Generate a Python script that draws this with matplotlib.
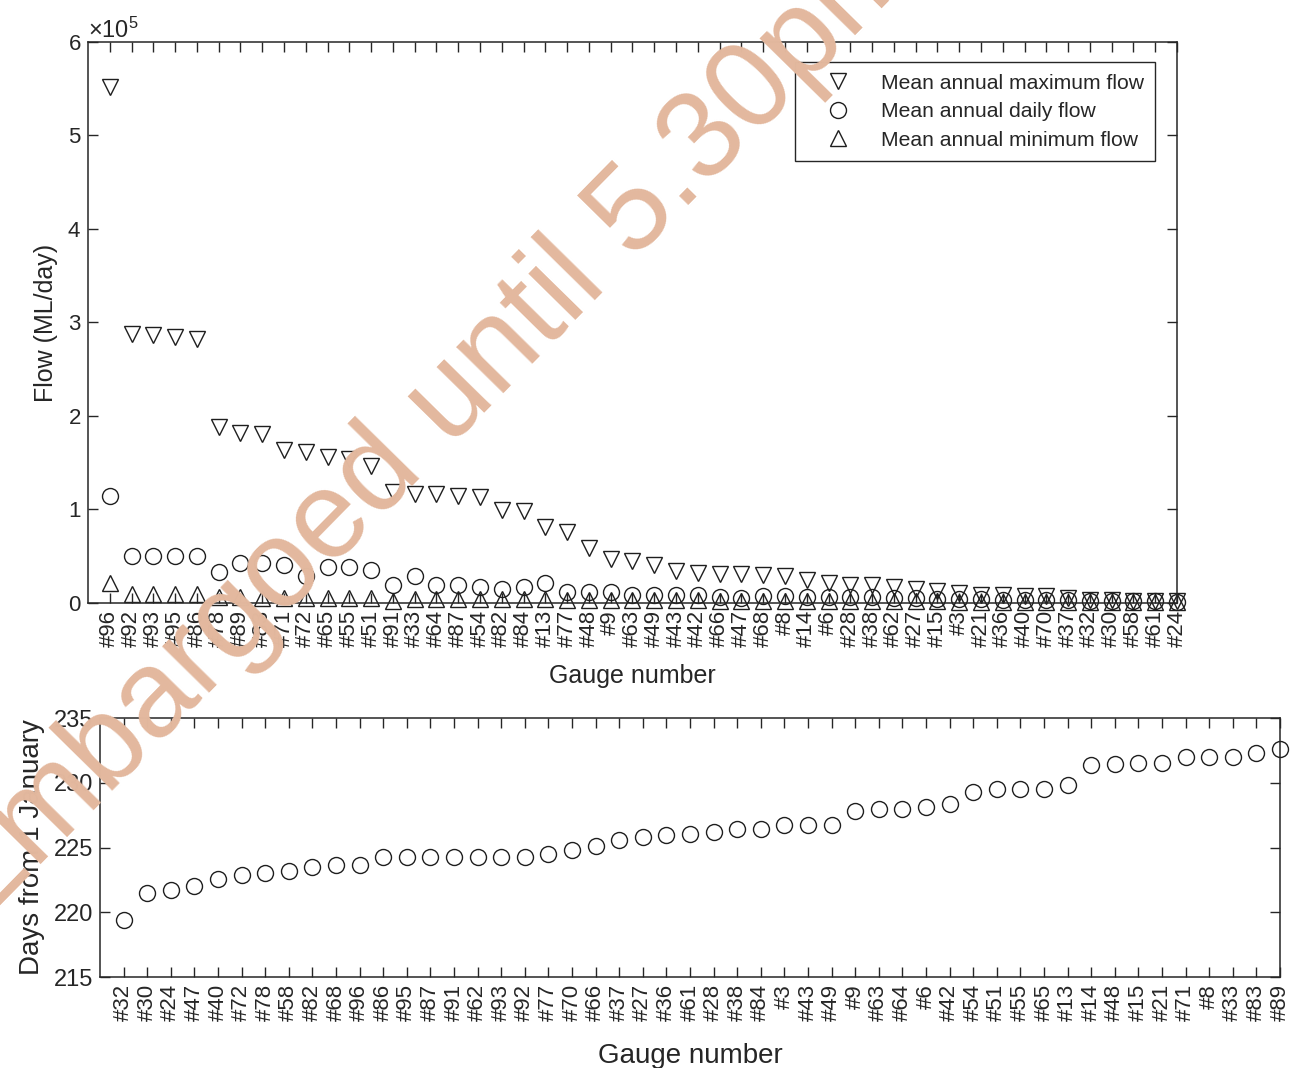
import matplotlib
matplotlib.use("Agg")
import matplotlib.pyplot as plt
from matplotlib.ticker import ScalarFormatter

plt.rcParams['font.family'] = ['Liberation Sans', 'DejaVu Sans']
plt.rcParams['mathtext.fontset'] = 'custom'
plt.rcParams['mathtext.rm'] = 'Liberation Sans'
plt.rcParams['mathtext.it'] = 'Liberation Sans:italic'

# ---- Flow statistics per gauge (ML/day), gauges ordered by maximum flow ----
flow_gauges = ['#96', '#92', '#93', '#95', '#86', '#78', '#89', '#83', '#71', '#72',
               '#65', '#55', '#51', '#91', '#33', '#64', '#87', '#54', '#82', '#84',
               '#13', '#77', '#48', '#9', '#63', '#49', '#43', '#42', '#66', '#47',
               '#68', '#8', '#14', '#6', '#28', '#38', '#62', '#27', '#15', '#3',
               '#21', '#36', '#40', '#70', '#37', '#32', '#30', '#58', '#61', '#24']

max_flow = [552000, 288000, 287000, 285000, 282000, 188000, 182000, 181000, 164000, 161000,
            156000, 154500, 147000, 118500, 116500, 116600, 114800, 113000, 99800, 98000,
            81600, 75600, 58800, 47400, 45300, 40300, 33900, 32100, 31000, 31000,
            30300, 28500, 25000, 21400, 19600, 19600, 16800, 15000, 12500, 10700,
            8900, 8200, 7100, 7100, 5300, 3600, 3600, 2500, 2500, 1800]

daily_flow = [114400, 50300, 50300, 50300, 50300, 33500, 43000, 43000, 41000, 28600,
              39000, 39000, 35000, 19000, 28600, 19600, 19600, 17100, 15000, 17100,
              21400, 11800, 11400, 11400, 8900, 8200, 8200, 8900, 6800, 5300,
              7800, 7800, 6800, 6000, 6500, 6500, 5500, 5000, 4500, 4000,
              3800, 3500, 3200, 3000, 2800, 2200, 2000, 1800, 1600, 1500]

min_flow = [21000, 9500, 9500, 9500, 9500, 6000, 6000, 5800, 5600, 5500,
            5500, 5400, 5300, 2000, 4000, 4500, 4500, 4300, 4000, 4000,
            4500, 3500, 3500, 3000, 3000, 2800, 2800, 2700, 2500, 2400,
            2400, 2300, 2200, 2000, 2000, 2000, 1800, 1700, 1600, 1500,
            1400, 1300, 1200, 1200, 1100, 1000, 1000, 900, 800, 800]

# ---- Timing (days from 1 January) per gauge, ordered by timing ----
timing_gauges = ['#32', '#30', '#24', '#47', '#40', '#72', '#78', '#58', '#82', '#68',
                 '#96', '#86', '#95', '#87', '#91', '#62', '#93', '#92', '#77', '#70',
                 '#66', '#37', '#27', '#36', '#61', '#28', '#38', '#84', '#3', '#43',
                 '#49', '#9', '#63', '#64', '#6', '#42', '#54', '#51', '#55', '#65',
                 '#13', '#14', '#48', '#15', '#21', '#71', '#8', '#33', '#83', '#89']

timing_days = [219.4, 221.5, 221.7, 222.0, 222.6, 222.9, 223.05, 223.2, 223.5, 223.65,
               223.65, 224.25, 224.25, 224.25, 224.25, 224.25, 224.25, 224.25, 224.5, 224.8,
               225.1, 225.6, 225.8, 226.0, 226.05, 226.2, 226.45, 226.45, 226.7, 226.7,
               226.7, 227.8, 227.95, 227.95, 228.1, 228.35, 229.25, 229.5, 229.5, 229.5,
               229.8, 231.4, 231.45, 231.55, 231.55, 232.0, 232.0, 232.0, 232.3, 232.6]

INK = '#262626'
MARK = '#1e1e1e'

fig = plt.figure(figsize=(13.06, 10.68), dpi=100)

# ---------------- upper panel: flow magnitudes ----------------
ax1 = fig.add_axes([0.0674, 0.4354, 0.8338, 0.5253])
x1 = list(range(1, len(flow_gauges) + 1))
style = dict(linestyle='none', mfc='none', mec=MARK, mew=1.0, ms=11.5, clip_on=False)
h_max, = ax1.plot(x1, max_flow, marker='v', label='Mean annual maximum flow', **style)
h_day, = ax1.plot(x1, daily_flow, marker='o', label='Mean annual daily flow', **style)
h_min, = ax1.plot(x1, min_flow, marker='^', label='Mean annual minimum flow', **style)

ax1.set_xlim(0, 50)
ax1.set_ylim(0, 600000)
ax1.set_xticks(x1)
ax1.set_xticklabels(flow_gauges, rotation=90)
ax1.set_yticks([0, 100000, 200000, 300000, 400000, 500000, 600000])
fmt = ScalarFormatter(useMathText=True)
fmt.set_powerlimits((0, 0))
ax1.yaxis.set_major_formatter(fmt)
ax1.yaxis.get_offset_text().set_fontsize(17)
ax1.yaxis.get_offset_text().set_color('#4a4a4a')
ax1.set_xlabel('Gauge number', fontsize=18, color=INK, labelpad=12)
ax1.set_ylabel('Flow (ML/day)', fontsize=18, color=INK, labelpad=7)

leg = ax1.legend(handles=[h_max, h_day, h_min], loc='upper right',
                 bbox_to_anchor=(0.98, 0.964), borderaxespad=0, fontsize=15.2,
                 fancybox=False, framealpha=1, edgecolor=INK,
                 handlelength=3.0, handletextpad=0.5, borderpad=0.55,
                 labelspacing=0.45)
leg.get_frame().set_linewidth(1.0)
for t in leg.get_texts():
    t.set_color(INK)

# ---------------- lower panel: timing ----------------
ax2 = fig.add_axes([0.0766, 0.0852, 0.9035, 0.2425])
x2 = list(range(1, len(timing_gauges) + 1))
ax2.plot(x2, timing_days, marker='o', linestyle='none', mfc='none', mec=MARK,
         mew=1.0, ms=11.5, clip_on=False)
ax2.set_xlim(0, 50)
ax2.set_ylim(215, 235)
ax2.set_xticks(x2)
ax2.set_xticklabels(timing_gauges, rotation=90)
ax2.set_yticks([215, 220, 225, 230, 235])
ax2.set_xlabel('Gauge number', fontsize=20, color=INK, labelpad=16)
ax2.set_ylabel('Days from 1 January', fontsize=20, color=INK, labelpad=6)

for ax, ls in ((ax1, 16), (ax2, 17)):
    ax.tick_params(direction='in', length=7, width=1.0, top=True, right=True,
                   colors=INK, labelsize=ls, pad=5)
    ax.tick_params(axis='x', labelsize=16)
    for sp in ax.spines.values():
        sp.set_color(INK)
        sp.set_linewidth(1.1)

# press embargo stamp across the figure
fig.text(0.3270, 0.6010, 'Embargoed until 5.30pm', fontsize=89, color='#E3B89E',
         rotation=45.5, rotation_mode='anchor', ha='center', va='center', zorder=20)

fig.savefig('out.png', dpi=100)
